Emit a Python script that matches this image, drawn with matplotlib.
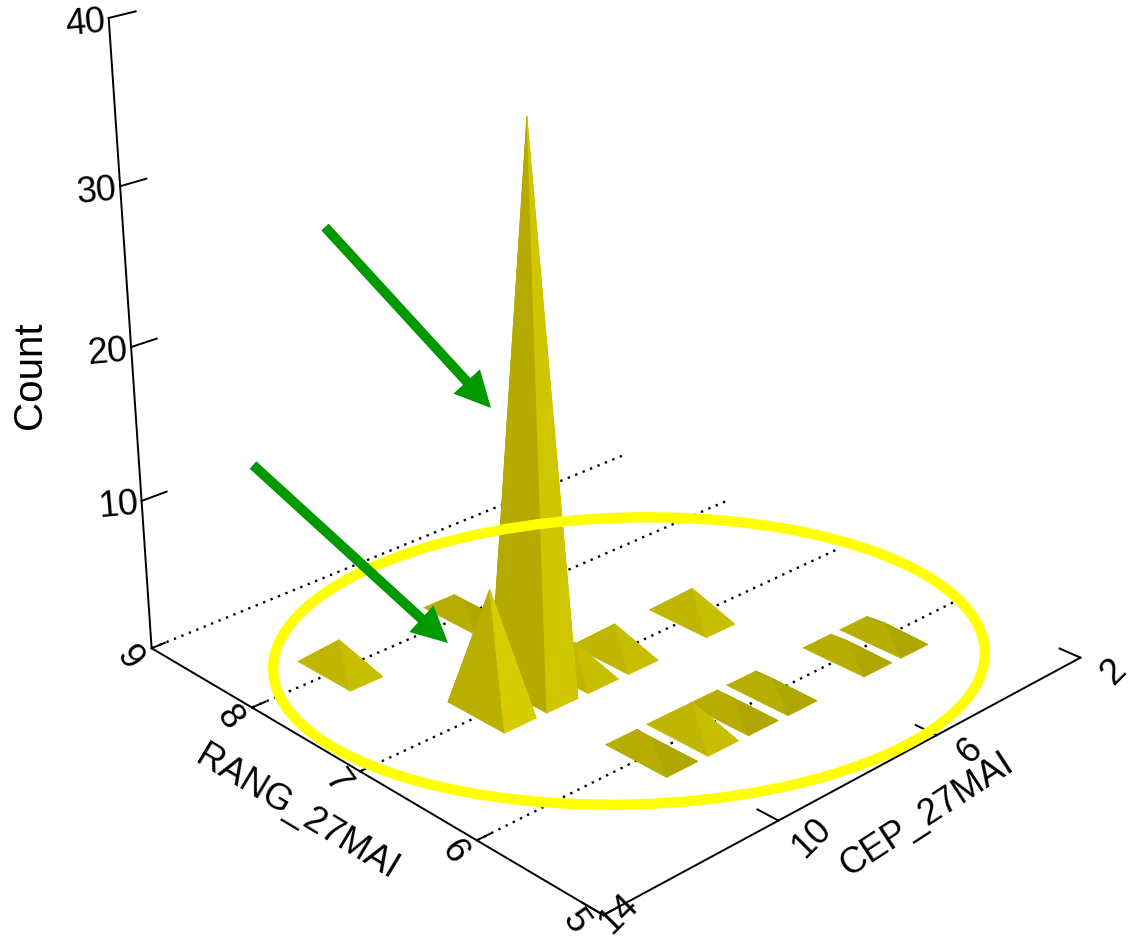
import numpy as np
import matplotlib
matplotlib.use("Agg")
import matplotlib.pyplot as plt
from matplotlib.patches import Ellipse, FancyArrow
from mpl_toolkits.mplot3d import proj3d
from mpl_toolkits.mplot3d.art3d import Poly3DCollection

plt.rcParams['font.family'] = ['Liberation Sans', 'DejaVu Sans']

# ==========================
# Data
# ==========================
rang = [8, 8, 7, 7, 7, 7, 7, 6, 6, 6, 6, 6, 6]
cep = [12, 9, 11, 10, 9, 8, 6, 10, 9, 8, 7, 5, 4]
count = [2, 1, 8, 36, 2, 2, 2, 1, 2, 1, 1, 1, 1]

rang_ticks = [9, 8, 7, 6, 5]
cep_ticks = [14, 10, 6, 2]
count_ticks = [10, 20, 30, 40]

# ==========================
# 3D axes (perspective view)
# ==========================
fig = plt.figure(figsize=(11.45, 9.44), dpi=100)
ax = fig.add_axes([244.4 / 1145, 222.7 / 944, 721 / 1145, 721 / 944], projection='3d')
ax.set_proj_type('persp', focal_length=0.78)
ax.view_init(elev=23.2, azim=136.2)
ax.set_box_aspect((1, 1, 1), zoom=1.6)
ax.set_xlim(5, 9)
ax.set_ylim(2, 14)
ax.set_zlim(0, 40)
ax.set_axis_off()
ax.computed_zorder = False

M = ax.get_proj()


def put_text(x, y, z, s, **kw):
    px, py, _ = proj3d.proj_transform(x, y, z, M)
    ax.text2D(px, py, s, transform=ax.transData, **kw)


line_kw = dict(color='black', lw=1.4, zorder=1, clip_on=False)

# floor grid (dotted, along CEP)
for r in rang_ticks[:-1]:
    ax.plot([r, r], [14, 2], [0, 0], color='black', ls=(0, (1, 2.4)), lw=1.7,
            zorder=1, clip_on=False)

# axis lines
ax.plot([9, 5], [14, 14], [0, 0], **line_kw)
ax.plot([5, 5], [14, 2], [0, 0], **line_kw)
ax.plot([9, 9], [14, 14], [0, 40], **line_kw)

# ticks + tick labels
for z in count_ticks:
    ax.plot([9, 9], [14, 13.45], [z, z], **line_kw)
    put_text(9, 14.05, z - 0.3, str(z), ha='right', va='center', fontsize=26, rotation=5)
for r in rang_ticks:
    ax.plot([r, r], [14, 13.7], [0, 0], **line_kw)
    if r == 5:
        put_text(5.06, 14.45, 0, str(r), ha='center', va='center', fontsize=26, rotation=-55)
    else:
        put_text(r, 14.5, 0, str(r), ha='center', va='center', fontsize=26, rotation=-55)
for c in cep_ticks:
    ax.plot([5, 5.16], [c, c], [0, 0], **line_kw)
    if c == 14:
        put_text(4.95, 13.8, 0, str(c), ha='center', va='center', fontsize=26, rotation=45)
    else:
        put_text(4.75, c, 0, str(c), ha='center', va='center', fontsize=26, rotation=45)

put_text(9, 16.1, 20.3, 'Count', ha='center', va='center', fontsize=29, rotation=90)
put_text(6.9, 15.6, 0, 'RANG_27MAI', ha='center', va='center', fontsize=26, rotation=-31)
put_text(4.47, 8.1, 0, 'CEP_27MAI', ha='center', va='center', fontsize=26, rotation=33)

# ==========================
# Pyramids
# ==========================
dr, dc = 0.25, 0.375
sx, sy, sz = 1 / 4, 1 / 12, 1 / 40


def shade(n):
    n = np.array(n) / np.linalg.norm(n)
    val = 78 + 126 * (-n[0]) + 100 * n[1] + 55 * n[2]
    val = min(max(val, 150), 225)
    return (val / 255, (val - 10) / 255, 0)


faces = []
colors = []
for r, c, h in zip(rang, cep, count):
    apex = (r, c, h)
    # left half (+CEP / +RANG faces) and right half (-RANG / -CEP faces)
    left_col = shade((0, h * sz, dc * sy))
    right_col = shade((-h * sz, 0, dr * sx))
    faces += [
        [(r + dr, c - dc, 0), (r + dr, c + dc, 0), apex],
        [(r - dr, c - dc, 0), (r + dr, c - dc, 0), apex],
        [(r - dr, c - dc, 0), (r - dr, c + dc, 0), apex],
        [(r - dr, c + dc, 0), (r + dr, c + dc, 0), apex],
    ]
    colors += [left_col, right_col, right_col, left_col]

pyr = Poly3DCollection(faces, facecolors=colors, edgecolors=colors,
                       linewidths=0.5, zsort='max', zorder=2)
pyr.set_clip_on(False)
ax.add_collection3d(pyr)

# ==========================
# Annotations (pixel overlay)
# ==========================
ov = fig.add_axes([0, 0, 1, 1])
ov.set_xlim(0, 1145)
ov.set_ylim(944, 0)
ov.axis('off')

ov.add_patch(Ellipse((629, 661), 712, 287, angle=-1.5, fill=False,
                     ec='#FFFF00', lw=7.4))

arrows = [((325, 227), (491, 408)), ((253, 465), (448, 643))]
for (x0, y0), (x1, y1) in arrows:
    ov.add_patch(FancyArrow(x0, y0, x1 - x0, y1 - y0, width=10, head_width=36,
                            head_length=36, length_includes_head=True,
                            color='#009900', lw=0))

fig.savefig("out.png", dpi=100)
